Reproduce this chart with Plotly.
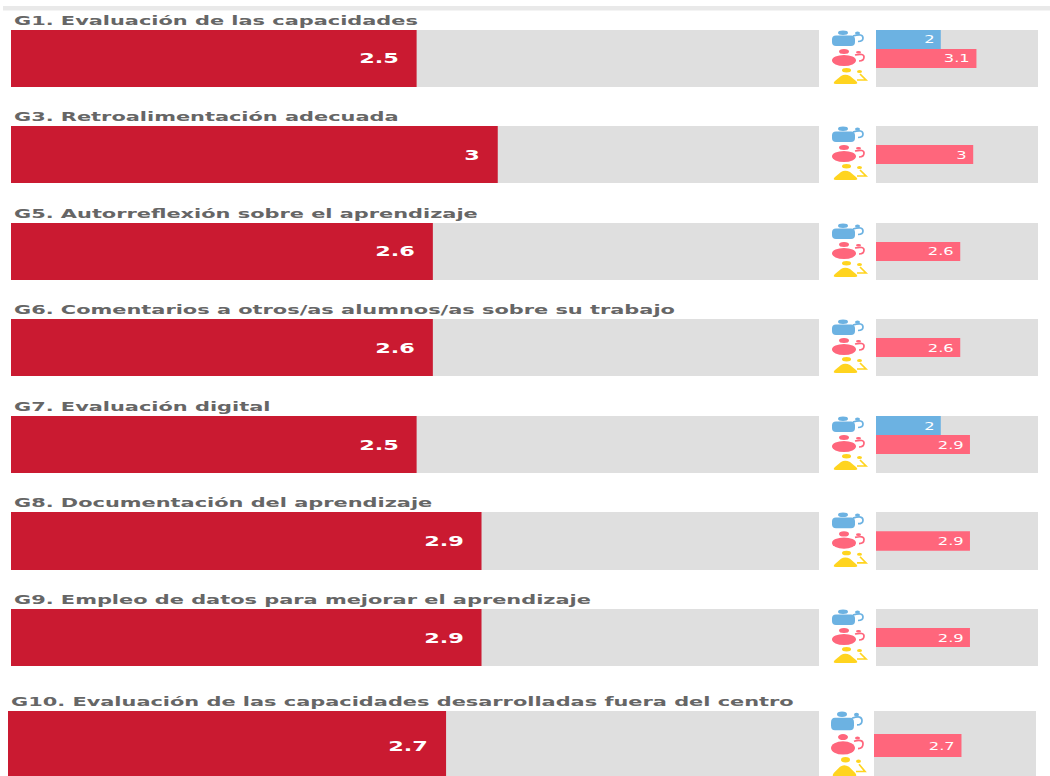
import plotly.graph_objects as go

titles = ["G1. Evaluación de las capacidades", "G3. Retroalimentación adecuada",
          "G5. Autorreflexión sobre el aprendizaje",
          "G6. Comentarios a otros/as alumnos/as sobre su trabajo",
          "G7. Evaluación digital", "G8. Documentación del aprendizaje",
          "G9. Empleo de datos para mejorar el aprendizaje",
          "G10. Evaluación de las capacidades desarrolladas fuera del centro"]
overall = [2.5, 3, 2.6, 2.6, 2.5, 2.9, 2.9, 2.7]
boys = [2, None, None, None, 2, None, None, None]
girls = [3.1, 3, 2.6, 2.6, 2.9, 2.9, 2.9, 2.7]
others = [None] * 8
main_max = 4.98
small_max = 5

W, H = 1050, 776
row_top = [30, 126, 223, 319, 416, 512, 609, 711]
row_h = [57, 57, 57, 57, 57, 58, 57, 69]
main_l = [11] * 7 + [8]
main_w = [808] * 7 + [811]
small_l = [876] * 7 + [874]
title_l = [14] * 7 + [11]
RED, PINK, BLUE, YEL, GREY = "#CA1A31", "#FF667C", "#6CB2E2", "#FFD41F", "#DFDFDF"


def px(x):
    return x / W


def py(y):
    return 1 - y / H


fig = go.Figure()
layout = {}
ann = []
shapes = [dict(type="rect", xref="paper", yref="paper", x0=px(3), x1=px(W), y0=py(6), y1=py(10.5),
               fillcolor="#E9E9E9", line_width=0, layer="below")]


def ax_name(n):
    return ("x" + str(n), "y" + str(n))


for i in range(8):
    top, h = row_top[i], row_h[i]
    bottom = min(top + h, H)
    slot = h / 3
    rng = [-0.5 + (bottom - top) / slot, -0.5]
    a, b = 2 * i + 1, 2 * i + 2
    m_max = main_max * main_w[i] / 808
    for n, left, width, mx in ((a, main_l[i], main_w[i], m_max), (b, small_l[i], 162, small_max)):
        suffix = "" if n == 1 else str(n)
        layout["xaxis" + suffix] = dict(domain=[px(left), px(left + width)], range=[0, mx],
                                        visible=False, fixedrange=True, anchor="y" + suffix)
        layout["yaxis" + suffix] = dict(domain=[py(bottom), py(top)], range=rng,
                                        visible=False, fixedrange=True, anchor="x" + suffix)
    xa, ya = ("x", "y") if a == 1 else ax_name(a)
    xb, yb = ax_name(b)
    common = dict(orientation="h", showlegend=False, hoverinfo="skip")
    fig.add_trace(go.Bar(x=[m_max], y=[1], width=[3], marker=dict(color=GREY, line_width=0),
                         xaxis=xa, yaxis=ya, **common))
    fig.add_trace(go.Bar(x=[overall[i]], y=[1], width=[3], marker=dict(color=RED, line_width=0),
                         xaxis=xa, yaxis=ya, **common))
    fig.add_trace(go.Bar(x=[small_max], y=[1], width=[3], marker=dict(color=GREY, line_width=0),
                         xaxis=xb, yaxis=yb, **common))
    ann.append(dict(x=overall[i], y=1, xref=xa, yref=ya, text=str(overall[i]), showarrow=False,
                    xanchor="right", align="right", xshift=-16, yanchor="middle",
                    font=dict(family="DejaVu Sans", size=14, color="white", weight="bold")))
    for slot_i, vals, col in ((0, boys, BLUE), (1, girls, PINK), (2, others, YEL)):
        v = vals[i]
        if v is None:
            continue
        fig.add_trace(go.Bar(x=[v], y=[slot_i], width=[1], marker=dict(color=col, line_width=0),
                             xaxis=xb, yaxis=yb, **common))
        ann.append(dict(x=v, y=slot_i, xref=xb, yref=yb, text=str(v), showarrow=False,
                        xanchor="right", align="right", xshift=-4, yanchor="middle",
                        font=dict(family="DejaVu Sans", size=10.5, color="white")))
    ann.append(dict(x=px(title_l[i]), y=py(top - 9), xref="paper", yref="paper", text=titles[i],
                    showarrow=False, xanchor="left", align="left", yanchor="middle", xshift=-2,
                    font=dict(family="DejaVu Sans", size=12, color="#666666", weight="bold")))

    # people icons
    sy = slot / 19
    cx = 832 if i < 7 else 831

    def X(v):
        return cx + v

    def Y(v):
        return top + v * sy

    def ell(col, x0, x1, y0, y1):
        shapes.append(dict(type="circle", xref="paper", yref="paper", x0=px(X(x0)), x1=px(X(x1)),
                           y0=py(Y(y1)), y1=py(Y(y0)), fillcolor=col, line_width=0))

    def path(d, col, fill=None):
        s = ""
        for tok in d:
            if isinstance(tok, str):
                s += tok + " "
            else:
                s += f"{px(X(tok[0])):.5f},{py(Y(tok[1])):.5f} "
        shapes.append(dict(type="path", xref="paper", yref="paper", path=s,
                           fillcolor=fill if fill else "rgba(0,0,0,0)",
                           line=dict(color=col, width=0 if fill else 1.7)))

    # blue figure
    ell(BLUE, 6, 16, 0.5, 5)
    path(["M", (4, 5.5), "L", (19, 5.5), "Q", (23, 5.5), (23, 9.5), "L", (23, 12), "Q", (23, 16), (19, 16),
          "L", (4, 16), "Q", (0, 16), (0, 12), "L", (0, 9.5), "Q", (0, 5.5), (4, 5.5), "Z"], BLUE, BLUE)
    ell(BLUE, 23, 28, 1.5, 4.5)
    path(["M", (21, 6), "Q", (31, 3), (31, 8), "Q", (31, 11.5), (26, 11.5)], BLUE)
    # red figure
    ell(PINK, 7, 17, 19, 24)
    ell(PINK, 0, 24, 25, 36)
    ell(PINK, 24, 29, 21, 23.5)
    path(["M", (23, 25), "Q", (32, 23), (32, 27), "Q", (32, 31), (27, 31)], PINK)
    # yellow figure
    ell(YEL, 10, 19, 38, 42.5)
    path(["M", (9, 46), "Q", (13, 43.5), (18, 46), "L", (24, 51), "Q", (27, 54), (23, 54),
          "L", (4, 54), "Q", (0, 54), (3, 51), "Z"], YEL, YEL)
    ell(YEL, 25, 30, 40, 43)
    path(["M", (28, 44), "L", (34, 50), "L", (25, 50)], YEL)

fig.update_layout(
    width=W, height=H, autosize=False, margin=dict(l=0, r=0, t=0, b=0),
    paper_bgcolor="white", plot_bgcolor="white", barmode="overlay",
    annotations=ann, shapes=shapes, **layout)

stretch = """
document.body.style.margin = '0';
var factors = {'14': 1.6, '12': 1.74, '10.5': 1.55};
document.querySelectorAll('.annotation-text').forEach(function (t) {
  var k = factors[String(parseFloat(t.style.fontSize))] || 1.5;
  t.setAttribute('textLength', t.getComputedTextLength() * k);
  t.setAttribute('lengthAdjust', 'spacingAndGlyphs');
});
"""
fig.write_html("out.html", post_script=stretch, config={"displayModeBar": False})
